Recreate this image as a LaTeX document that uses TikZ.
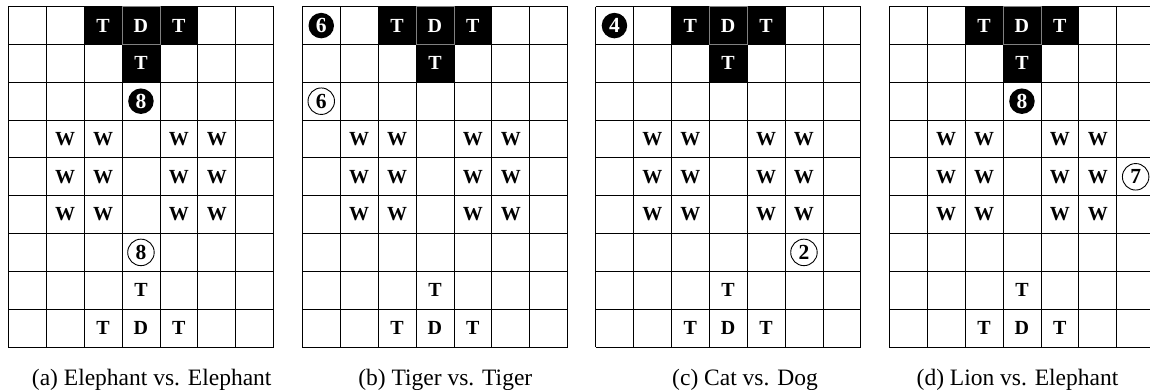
\documentclass[tikz,border=0pt]{standalone}
\usepackage{fontspec}
\setmainfont{Liberation Serif}
\newcommand\board[8]{%
\begin{scope}[shift={(#2,6.7)},x=37.9pt,y=-37.8pt]
  \foreach \ii in {0,...,7} \draw[gridline] (\ii,0) -- (\ii,9);
  \foreach \jj in {0,...,9} \draw[gridline] (0,\jj) -- (7,\jj);
  \fill[blk] (2,0) rectangle (3,1) (4,0) rectangle (5,1) (3,1) rectangle (4,2);
  \draw[dcell] (3,0) rectangle (4,1);
  \node[wlab] (#1-tl) at (2.5,0.5) {T};
  \node[wlab] (#1-dt) at (3.5,0.5) {D};
  \node[wlab] (#1-tr) at (4.5,0.5) {T};
  \node[wlab] (#1-tm) at (3.5,1.5) {T};
  \foreach \ri in {4,5,6} \foreach \ci in {2,3,5,6}
    \node[lab] (#1-w\ri\ci) at (\ci-0.5,\ri-0.5) {W};
  \node[lab] (#1-bm) at (3.5,7.5) {T};
  \node[lab] (#1-bl) at (2.5,8.5) {T};
  \node[lab] (#1-db) at (3.5,8.5) {D};
  \node[lab] (#1-br) at (4.5,8.5) {T};
  \node[fcirc] (#1-f) at (#4-0.5,#3-0.5) {#5};
  \node[ocirc] (#1-o) at (#7-0.5,#6-0.5) {#8};
\end{scope}}
\begin{document}
\begin{tikzpicture}[x=1pt,y=-1pt,
  gridline/.style={draw=black,line width=0.8pt},
  blk/.style={fill=black,draw=black,line width=0.8pt},
  dcell/.style={fill=black,draw=gray,line width=0.8pt},
  lab/.style={font=\fontsize{20}{20}\selectfont\bfseries,inner sep=0pt},
  wlab/.style={lab,text=white},
  fcirc/.style={circle,fill=black,text=white,minimum size=25.5pt,inner sep=0pt,font=\fontsize{21.5}{21.5}\selectfont\bfseries},
  ocirc/.style={circle,draw=black,line width=0.9pt,minimum size=26.5pt,inner sep=0pt,font=\fontsize{21.5}{21.5}\selectfont\bfseries},
  captext/.style={font=\fontsize{23.5}{25}\selectfont,anchor=base,inner sep=0pt}]
\useasboundingbox (0,0) rectangle (1150,390);
\board{a}{8.3}{3}{4}{8}{7}{4}{8}
\board{b}{302.3}{1}{1}{6}{3}{1}{6}
\board{c}{595.5}{1}{1}{4}{7}{6}{2}
\begin{scope}
  \clip (0,0) rectangle (1150,390);
  \board{d}{889.3}{3}{4}{8}{5}{7}{7}
\end{scope}
\node[captext] (capa) at (151.7,385) {(a) Elephant vs. Elephant};
\node[captext] (capb) at (445.3,385) {(b) Tiger vs. Tiger};
\node[captext] (capc) at (745,385) {(c) Cat vs. Dog};
\node[captext] (capd) at (1017.5,385) {(d) Lion vs. Elephant};
\end{tikzpicture}
\end{document}
